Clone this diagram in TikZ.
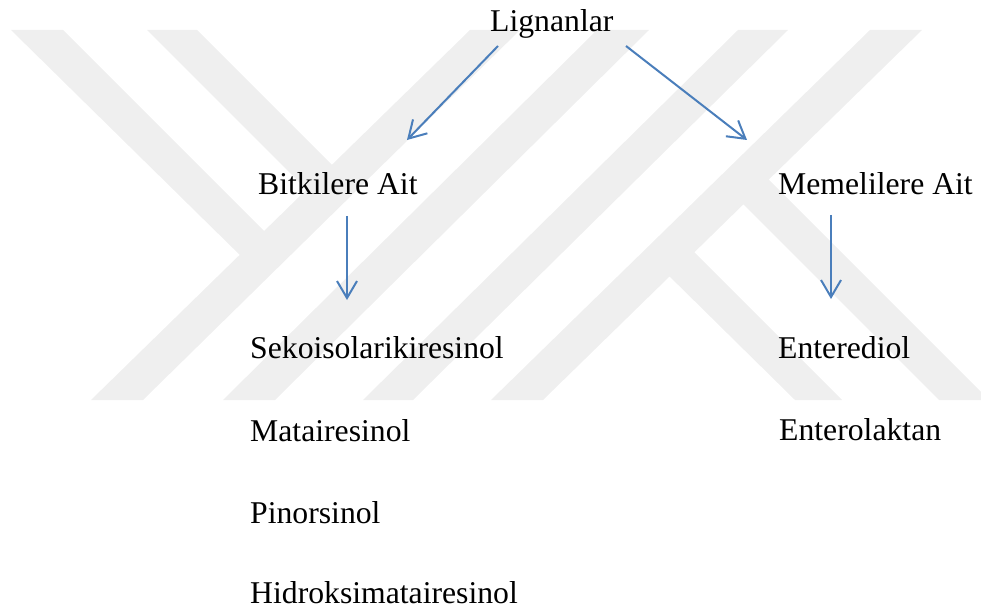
\documentclass[tikz,border=0pt]{standalone}
\usepackage{fontspec}
\setmainfont{Liberation Serif}
\usetikzlibrary{arrows.meta}
\definecolor{wmgray}{RGB}{239,239,239}
\definecolor{arrowblue}{RGB}{74,126,187}
\tikzset{
  lbl/.style={anchor=base west, inner sep=0pt, font=\fontsize{31.7}{38}\selectfont},
  conn/.style={draw=arrowblue, line width=2pt, -{Straight Barb[length=17pt,width=20pt]}},
  wm/.style={fill=wmgray, draw=none}
}
\begin{document}
\begin{tikzpicture}[x=1pt,y=-1pt]
\useasboundingbox (0,0) rectangle (981,609);
\clip (0,0) rectangle (981,609);
% watermark
\path[wm] (470,30) -- (520,30) -- (143,400) -- (91,400) -- cycle;
\path[wm] (597,30) -- (649,30) -- (275,400) -- (223,400) -- cycle;
\path[wm] (738,30) -- (788,30) -- (413,400) -- (363,400) -- cycle;
\path[wm] (870,30) -- (922,30) -- (543,400) -- (491,400) -- cycle;
\path[wm] (11,30) -- (63,30) -- (272,239) -- (248,263) -- cycle;
\path[wm] (147,30) -- (197,30) -- (340,173) -- (315,198) -- cycle;
\path[wm] (662,269) -- (687,245) -- (842,400) -- (795,400) -- cycle;
\path[wm] (736,197) -- (761,172) -- (989,400) -- (939,400) -- cycle;
% texts
\node[lbl] (lig) at (490,32) {Lignanlar};
\node[lbl] (bit) at (258,195) {Bitkilere Ait};
\node[lbl] (mem) at (778,195) {Memelilere Ait};
\node[lbl] (sek) at (250,358) {Sekoisolarikiresinol};
\node[lbl] (mat) at (250,441) {Matairesinol};
\node[lbl] (pin) at (250,523) {Pinorsinol};
\node[lbl] (hid) at (250,603) {Hidroksimatairesinol};
\node[lbl] (ent) at (778,358) {Enterediol};
\node[lbl] (entl) at (779,440) {Enterolaktan};
% arrows
\draw[conn] ([shift={(8,14)}]lig.base west) -- ([shift={(149,-55)}]bit.base west);
\draw[conn] ([shift={(136,14)}]lig.base west) -- ([shift={(-31,-55)}]mem.base west);
\draw[conn] ([shift={(89,21)}]bit.base west) -- ([shift={(97,-58)}]sek.base west);
\draw[conn] ([shift={(53,20)}]mem.base west) -- ([shift={(53,-59)}]ent.base west);
\end{tikzpicture}
\end{document}
